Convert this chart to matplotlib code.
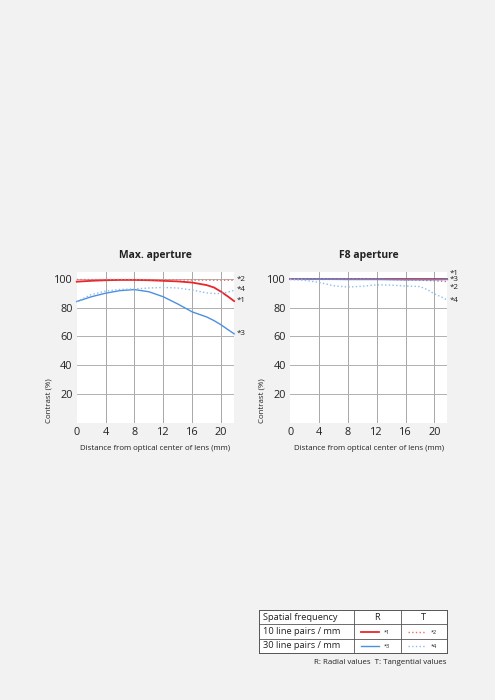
import matplotlib.pyplot as plt
import numpy as np

plt.rcParams['font.family'] = ['Open Sans', 'DejaVu Sans']

# distance from optical center (mm)
dist = [0, 2, 4, 6, 8, 10, 12, 14, 16, 18, 19, 20, 21, 21.8]

# Max. aperture
max_r10 = [98.0, 98.6, 99.0, 99.2, 99.2, 99.0, 98.6, 98.2, 97.4, 95.6, 94.0, 91.0, 87.5, 84.5]
max_t10 = [99.5, 99.5, 99.5, 99.5, 99.5, 99.4, 99.3, 99.2, 99.1, 99.0, 99.0, 99.0, 99.0, 99.0]
max_r30 = [84.2, 87.5, 90.0, 91.8, 92.5, 91.0, 87.5, 82.5, 77.0, 73.5, 71.0, 68.0, 64.5, 61.8]
max_t30 = [84.2, 89.0, 91.5, 92.6, 93.0, 93.6, 94.0, 93.6, 92.2, 90.2, 89.8, 89.8, 90.8, 92.0]

# F8 aperture
f8_r10 = [100.0, 100.0, 100.0, 100.0, 100.0, 100.0, 100.0, 100.0, 100.0, 100.0, 100.0, 100.0, 100.0, 100.0]
f8_t10 = [100.0, 100.0, 100.0, 100.0, 100.0, 100.0, 99.8, 99.5, 99.2, 99.0, 98.8, 98.6, 98.3, 98.0]
f8_r30 = [99.6, 99.6, 99.6, 99.6, 99.5, 99.5, 99.5, 99.4, 99.3, 99.3, 99.3, 99.3, 99.4, 99.5]
f8_t30 = [99.5, 99.0, 97.5, 95.2, 94.3, 94.8, 95.8, 95.6, 95.0, 94.6, 92.5, 89.5, 87.3, 85.2]

xticks = [0, 4, 8, 12, 16, 20]
yticks = [20, 40, 60, 80, 100]

RED = '#e8262a'
RED_DOT = '#f06a6a'
BLUE = '#4a90e0'
BLUE_DOT = '#8cbcf0'
TXT = '#222222'

panels = [
    ('Max. aperture', [0.155, 0.396, 0.318, 0.216],
     [max_r10, max_t10, max_r30, max_t30],
     ['*1', '*2', '*3', '*4'], [85.0, 99.3, 62.0, 92.5]),
    ('F8 aperture', [0.586, 0.396, 0.318, 0.216],
     [f8_r10, f8_t10, f8_r30, f8_t30],
     ['*1', '*2', '*3', '*4'], [104.0, 93.8, 99.2, 84.6]),
]
styles = [(RED, '-', 1.3), (RED_DOT, ':', 1.0), (BLUE, '-', 1.0), (BLUE_DOT, ':', 1.0)]

fig = plt.figure(figsize=(4.95, 7.0), dpi=100)
fig.patch.set_facecolor('#f2f2f2')

for title, pos, series, labs, laby in panels:
    ax = fig.add_axes(pos)
    ax.set_facecolor('white')
    ax.set_xlim(0, 21.8)
    ax.set_ylim(0, 105)
    for v in xticks[1:]:
        ax.axvline(v, color='#a8a8a8', lw=0.7, zorder=1)
    for v in yticks:
        ax.axhline(v, color='#b0b0b0', lw=0.7, zorder=1)
    for ys, (c, ls, lw) in zip(series, styles):
        ax.plot(dist, ys, color=c, ls=ls, lw=lw, zorder=3, clip_on=False)
    for lab, ly in zip(labs, laby):
        ax.text(22.1, ly, lab, fontsize=5.8, color=TXT, va='center', ha='left')
    for s in ax.spines.values():
        s.set_visible(False)
    ax.set_xticks(xticks)
    ax.set_yticks(yticks)
    ax.tick_params(length=0, labelsize=7.8, colors=TXT, pad=3)
    ax.set_title(title, fontsize=7.5, fontweight='bold', color=TXT, pad=10)
    ax.set_xlabel('Distance from optical center of lens (mm)', fontsize=5.7, color=TXT, labelpad=5)
    ax.set_ylabel('Contrast (%)', fontsize=5.7, color=TXT, loc='bottom', labelpad=1)

# legend table
tab = fig.add_axes([259 / 495, 1 - 653 / 700, 188 / 495, 43 / 700])
tab.set_xlim(259, 447)
tab.set_ylim(653, 610)
tab.set_facecolor('white')
for s in tab.spines.values():
    s.set_color('#555555')
    s.set_linewidth(0.7)
tab.set_xticks([])
tab.set_yticks([])
for yl in [624, 639]:
    tab.plot([259, 447], [yl, yl], color='#555555', lw=0.6)
for xl in [353.5, 401]:
    tab.plot([xl, xl], [610, 653], color='#555555', lw=0.6)

rows = ['Spatial frequency', '10 line pairs / mm', '30 line pairs / mm']
row_y = [617, 631.5, 646]
for r, yy in zip(rows, row_y):
    tab.text(263, yy, r, fontsize=6.7, color=TXT, va='center', ha='left')
tab.text(377, row_y[0], 'R', fontsize=6.7, color=TXT, va='center', ha='center')
tab.text(424, row_y[0], 'T', fontsize=6.7, color=TXT, va='center', ha='center')

cells = [(361, row_y[1], 0), (408, row_y[1], 1), (361, row_y[2], 2), (408, row_y[2], 3)]
for x0, yy, i in cells:
    c, ls, lw = styles[i]
    tab.plot([x0, x0 + 18], [yy, yy], color=c, ls=ls, lw=lw)
    tab.text(x0 + 23, yy + 0.5, '*%d' % (i + 1), fontsize=4, color=TXT, va='center', ha='left')

fig.text(447 / 495, 1 - 662 / 700, 'R: Radial values  T: Tangential values',
         fontsize=5.7, color=TXT, ha='right', va='center')

fig.savefig('out.png', dpi=100, facecolor=fig.get_facecolor())
